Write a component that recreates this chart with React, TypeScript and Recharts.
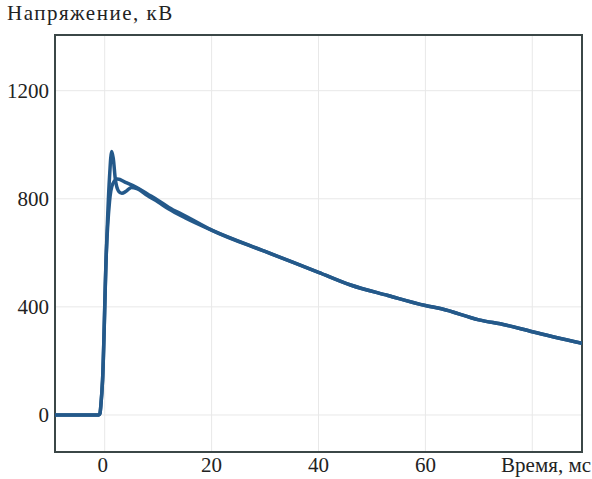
import React from 'react';
import { LineChart, Line, XAxis, YAxis, CartesianGrid, ReferenceArea } from 'recharts';

// Rise (shared by both traces), time in ms, voltage in kV
const riseTime = [-9.3, -1.1, -0.9, -0.7, -0.4, 0.3];
const riseVolt = [0, 0, 5, 40, 130, 600];

// Trace with the sharp overshoot
const spikeTime = [0.9, 1.3, 1.6, 2.0, 2.6, 3.2, 4.0, 5.0, 6.0, 8.0, 10, 12, 15];
const spikeVolt = [880, 975, 950, 870, 828, 820, 828, 842, 838, 812, 788, 762, 730];

// Smooth trace
const smoothTime = [0.9, 1.5, 2.4, 4.0, 6.0, 8.0, 10, 12, 15];
const smoothVolt = [790, 855, 873, 860, 842, 818, 794, 768, 737];

// Common tail
const decayTime = [20, 30, 40, 46, 53, 60, 63, 70, 75, 80, 89.3];
const decayVolt = [684, 605, 528, 481, 442, 405, 393, 352, 333, 308, 265];

const xTicks = [0, 20, 40, 60, 80];
const yTicks = [0, 400, 800, 1200];
const xDomain: [number, number] = [-9.3, 89.3];
const yDomain: [number, number] = [-137, 1406];

const build = (t: number[], v: number[]) => t.map((x, i) => ({ t: x, v: v[i] }));
const spikeData = [...build(riseTime, riseVolt), ...build(spikeTime, spikeVolt), ...build(decayTime, decayVolt)];
const smoothData = [...build(riseTime, riseVolt), ...build(smoothTime, smoothVolt), ...build(decayTime, decayVolt)];

const FONT = '"Liberation Serif", "DejaVu Serif", serif';
const LINE = '#24598a';
const FS = 21;

const XTick = (props: any) => {
  const { x, y, payload } = props;
  if (payload.value === 80) {
    return (
      <text x={591} y={y} dy="0.71em" textAnchor="end" fontFamily={FONT} fontSize={FS} fill="#222">
        Время, мс
      </text>
    );
  }
  return (
    <text x={x - (payload.value === 0 ? 2 : 0)} y={y} dy="0.71em" textAnchor="middle" fontFamily={FONT} fontSize={FS} fill="#222">
      {payload.value}
    </text>
  );
};

export default function App() {
  return (
    <div style={{ position: 'absolute', left: 0, top: 0, width: 592, height: 479, background: '#fff' }}>
      <div style={{ position: 'absolute', left: 7, top: 1, fontFamily: FONT, fontSize: FS, letterSpacing: 1.5, color: '#222', whiteSpace: 'nowrap' }}>
        Напряжение, кВ
      </div>
      <LineChart width={592} height={479} margin={{ top: 35, right: 10, bottom: 0, left: 0 }}>
        <CartesianGrid stroke="#e8e8e8" strokeWidth={1} horizontalValues={yTicks} verticalValues={xTicks} />
        <XAxis
          type="number"
          dataKey="t"
          domain={xDomain}
          ticks={xTicks}
          allowDataOverflow
          axisLine={false}
          tickLine={false}
          tickSize={0}
          tickMargin={5}
          tick={<XTick />}
          height={27}
        />
        <YAxis
          type="number"
          dataKey="v"
          domain={yDomain}
          ticks={yTicks}
          allowDataOverflow
          axisLine={false}
          tickLine={false}
          tickSize={0}
          tickMargin={6}
          width={55}
          tick={{ fontFamily: FONT, fontSize: FS, fill: '#222' }}
        />
        <ReferenceArea x1={xDomain[0]} x2={xDomain[1]} y1={yDomain[0]} y2={yDomain[1]} fill="none" stroke="#3b4747" strokeWidth={2} ifOverflow="visible" />
        <Line data={smoothData} dataKey="v" type="monotone" stroke={LINE} strokeWidth={3.5} dot={false} isAnimationActive={false} />
        <Line data={spikeData} dataKey="v" type="monotone" stroke={LINE} strokeWidth={3.5} dot={false} isAnimationActive={false} />
      </LineChart>
    </div>
  );
}
